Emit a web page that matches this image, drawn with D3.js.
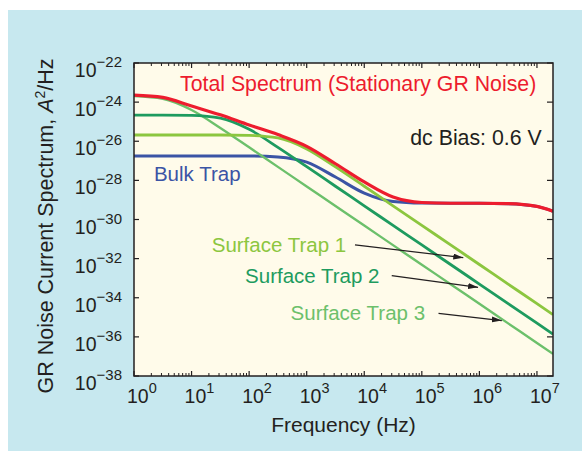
<!DOCTYPE html>
<html><head><meta charset="utf-8">
<script src="https://cdn.jsdelivr.net/npm/d3@7"></script>
<style>
body{margin:0;background:#fff}
svg{display:block}
text{font-family:"Liberation Sans",Arial,Helvetica,sans-serif;fill:#231f20}
</style>
</head><body><svg id="c" width="582" height="453"></svg>
<script>
// ---- data ----
const frequencies   = [1, 3.16, 10, 31.6, 100, 316, 1e3, 3.16e3, 1e4, 3.16e4, 1e5, 3.16e5, 1e6, 3.16e6, 1e7, 1.9e7];
const totalSpectrum = [2.29e-24, 1.74e-24, 6.31e-25, 2.24e-25, 6.76e-26, 2.19e-26, 5.50e-27, 7.08e-28, 8.32e-29, 1.41e-29, 7.41e-30, 6.76e-30, 6.76e-30, 6.46e-30, 4.68e-30, 2.63e-30];
const bulkTrap      = [1.78e-27, 1.78e-27, 1.78e-27, 1.78e-27, 1.78e-27, 1.58e-27, 8.51e-28, 1.48e-28, 2.24e-29, 8.32e-30, 6.92e-30, 6.76e-30, 6.76e-30, 6.46e-30, 4.68e-30, 2.63e-30];
const surfaceTrap1  = [2.09e-26, 2.09e-26, 2.09e-26, 2.09e-26, 2.00e-26, 1.48e-26, 4.07e-27, 4.90e-28, 5.01e-29, 5.01e-30, 5.01e-31, 5.01e-32, 5.01e-33, 5.01e-34, 5.01e-35, 1.38e-35];
const surfaceTrap2  = [2.19e-25, 2.19e-25, 2.09e-25, 1.51e-25, 4.07e-26, 4.90e-27, 5.01e-28, 5.01e-29, 5.01e-30, 5.01e-31, 5.01e-32, 5.01e-33, 5.01e-34, 5.01e-35, 5.01e-36, 1.38e-36];
const surfaceTrap3  = [2.04e-24, 1.48e-24, 3.98e-25, 4.79e-26, 4.90e-27, 4.90e-28, 4.90e-29, 4.90e-30, 4.90e-31, 4.90e-32, 4.90e-33, 4.90e-34, 4.90e-35, 4.90e-36, 4.90e-37, 1.35e-37];

const xTickExponents = [0, 1, 2, 3, 4, 5, 6, 7];
const yTickExponents = [-22, -24, -26, -28, -30, -32, -34, -36, -38];

const seriesNames  = ["Bulk Trap", "Surface Trap 3", "Surface Trap 2", "Surface Trap 1", "Total Spectrum (Stationary GR Noise)"];
const seriesValues = [bulkTrap, surfaceTrap3, surfaceTrap2, surfaceTrap1, totalSpectrum];
const seriesColors = ["#3b54a5", "#6cc06b", "#1e9b5f", "#8cc63f", "#ed1c2e"];
const seriesWidths = [3, 2.4, 2.8, 2.8, 3.2];

// labels: text, anchor freq, baseline value, colour, size
const labelText  = ["Total Spectrum (Stationary GR Noise)", "dc Bias: 0.6 V", "Bulk Trap", "Surface Trap 1", "Surface Trap 2", "Surface Trap 3"];
const labelFreq  = [6.3, 6.3e4, 2.22, 22.4, 85, 525];
const labelValue = [3.9e-24, 6.5e-27, 9.5e-29, 2.24e-32, 5.5e-34, 7.2e-36];
const labelColor = ["#ed1c2e", "#231f20", "#3b54a5", "#8cc63f", "#1e9b5f", "#6cc06b"];
const labelSize  = [21.3, 21.3, 20.5, 20.5, 20.5, 20.5];
// arrows: tail -> tip
const arrowTailFreq  = [6.9e3, 3.0e4, 1.95e5];
const arrowTailValue = [5.0e-32, 1.35e-33, 1.6e-35];
const arrowTipFreq   = [5.25e5, 9.5e5, 2.45e6];
const arrowTipValue  = [1.12e-32, 3.4e-34, 6.8e-36];

// ---- drawing ----
const svg = d3.select("#c");
const X0 = 134, X1 = 553, Y0 = 63, Y1 = 376;
const x = d3.scaleLog().domain([1, 1.9e7]).range([X0, X1]);
const y = d3.scaleLog().domain([1e-38, 1e-22]).range([Y1, Y0]);

svg.append("rect").attr("x", 0).attr("y", 0).attr("width", 582).attr("height", 453).attr("fill", "#ffffff");
svg.append("rect").attr("x", 8).attr("y", 10).attr("width", 574).attr("height", 441).attr("fill", "#c7e8ef");
svg.append("rect").attr("x", X0).attr("y", Y0).attr("width", X1 - X0).attr("height", Y1 - Y0).attr("fill", "#fffbea");

const defs = svg.append("defs");
defs.append("clipPath").attr("id", "clip").append("rect")
  .attr("x", X0).attr("y", Y0).attr("width", X1 - X0).attr("height", Y1 - Y0);
defs.append("marker").attr("id", "ah").attr("viewBox", "0 0 10 6").attr("refX", 10).attr("refY", 3)
  .attr("markerWidth", 10).attr("markerHeight", 6).attr("markerUnits", "userSpaceOnUse").attr("orient", "auto")
  .append("path").attr("d", "M0,0 L10,3 L0,6 Z").attr("fill", "#231f20");

// ticks
const g = svg.append("g");
const minor = [];
xTickExponents.forEach(e => { for (let k = 2; k <= 9; k++) { const v = k * Math.pow(10, e); if (v < 1.9e7) minor.push(v); } });
minor.forEach(v => {
  g.append("line").attr("x1", x(v)).attr("x2", x(v)).attr("y1", Y1).attr("y2", Y1 - 3).attr("stroke", "#231f20").attr("stroke-width", 1);
  g.append("line").attr("x1", x(v)).attr("x2", x(v)).attr("y1", Y0).attr("y2", Y0 + 3).attr("stroke", "#231f20").attr("stroke-width", 1);
});
xTickExponents.forEach(e => {
  const v = Math.pow(10, e);
  g.append("line").attr("x1", x(v)).attr("x2", x(v)).attr("y1", Y1).attr("y2", Y1 - 5).attr("stroke", "#231f20").attr("stroke-width", 1.2);
  g.append("line").attr("x1", x(v)).attr("x2", x(v)).attr("y1", Y0).attr("y2", Y0 + 5).attr("stroke", "#231f20").attr("stroke-width", 1.2);
  const t = svg.append("text").attr("x", x(v) - 7).attr("y", 403).attr("font-size", 19.5);
  t.append("tspan").text("10");
  t.append("tspan").attr("dy", -10).attr("font-size", 14.5).text(String(e));
});
yTickExponents.forEach(e => {
  const v = Math.pow(10, e);
  g.append("line").attr("x1", X0).attr("x2", X0 + 5).attr("y1", y(v)).attr("y2", y(v)).attr("stroke", "#231f20").attr("stroke-width", 1.2);
  g.append("line").attr("x1", X1).attr("x2", X1 - 6).attr("y1", y(v)).attr("y2", y(v)).attr("stroke", "#231f20").attr("stroke-width", 1.2);
  const t = svg.append("text").attr("x", 122).attr("y", y(v) + 14).attr("text-anchor", "end").attr("font-size", 19.5);
  t.append("tspan").text("10");
  t.append("tspan").attr("dy", -10).attr("font-size", 15).text("\u2212" + String(-e));
});

// lines
const line = d3.line().x(d => x(d[0])).y(d => y(d[1])).curve(d3.curveMonotoneX);
const lg = svg.append("g").attr("clip-path", "url(#clip)");
seriesValues.forEach((vals, i) => {
  lg.append("path").datum(frequencies.map((f, j) => [f, vals[j]]))
    .attr("d", line).attr("fill", "none").attr("stroke", seriesColors[i])
    .attr("stroke-width", seriesWidths[i]).attr("stroke-linejoin", "round").attr("stroke-linecap", "butt");
});

// frame
svg.append("rect").attr("x", X0).attr("y", Y0).attr("width", X1 - X0).attr("height", Y1 - Y0)
  .attr("fill", "none").attr("stroke", "#231f20").attr("stroke-width", 1.5);

// annotations
labelText.forEach((s, i) => {
  svg.append("text").attr("x", x(labelFreq[i])).attr("y", y(labelValue[i])).attr("font-size", labelSize[i])
    .style("fill", labelColor[i]).text(s);
});
arrowTailFreq.forEach((f, i) => {
  svg.append("line").attr("x1", x(f)).attr("y1", y(arrowTailValue[i]))
    .attr("x2", x(arrowTipFreq[i])).attr("y2", y(arrowTipValue[i]))
    .attr("stroke", "#231f20").attr("stroke-width", 1.2).attr("marker-end", "url(#ah)");
});

// axis titles
svg.append("text").attr("x", (X0 + X1) / 2).attr("y", 432).attr("text-anchor", "middle").attr("font-size", 21).text("Frequency (Hz)");
const yt = svg.append("text").attr("transform", "translate(53,226) rotate(-90)").attr("text-anchor", "middle").attr("font-size", 21.5);
yt.append("tspan").text("GR Noise Current Spectrum, ");
yt.append("tspan").attr("font-style", "italic").text("A");
yt.append("tspan").attr("dy", -8).attr("font-size", 14).text("2");
yt.append("tspan").attr("dy", 8).text("/Hz");
</script>
</body></html>
